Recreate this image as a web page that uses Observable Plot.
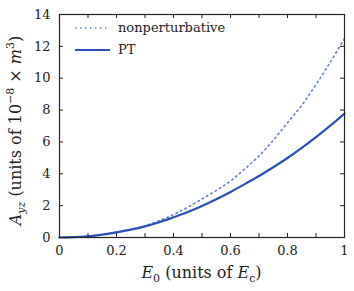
<!DOCTYPE html>
<html><head><meta charset="utf-8">
<script src="https://cdn.jsdelivr.net/npm/d3@7"></script>
<script src="https://cdn.jsdelivr.net/npm/@observablehq/plot@0.6"></script>
<style>body{margin:0;background:#fff} svg text, svg tspan {font-family: "DejaVu Serif", serif !important;}</style>
</head><body><div id="chart"></div>
<script>
const E0 = [0,0.05,0.1,0.15,0.2,0.25,0.3,0.35,0.4,0.45,0.5,0.55,0.6,0.65,0.7,0.75,0.8,0.85,0.9,0.95,1.0];
const nonperturbative = [0,0.02,0.08,0.18,0.33,0.51,0.74,1.06,1.44,1.9,2.42,2.95,3.55,4.3,5.12,6.1,7.2,8.3,9.6,11.0,12.5];
const PT = [0,0.02,0.08,0.18,0.32,0.49,0.7,0.96,1.27,1.6,1.98,2.4,2.86,3.35,3.86,4.41,4.99,5.62,6.3,7.02,7.78];
const xTicks = [0,0.2,0.4,0.6,0.8,1];
const xMinor = [0,0.1,0.2,0.3,0.4,0.5,0.6,0.7,0.8,0.9,1];
const yTicks = [0,2,4,6,8,10,12,14];
const seriesNames = ["nonperturbative","PT"];
const colors = ["#5b80d6","#2b50b8"];

const W = 354, H = 291, mL = 59, mR = 10, mT = 14, mB = 54;
const iW = W - mL - mR, iH = H - mT - mB, tl = 4;
const rows = E0.map((x,i)=>({x, np: nonperturbative[i], pt: PT[i]}));
const font = "DejaVu Serif, serif";

const plot = Plot.plot({
  width: W, height: H,
  marginLeft: mL, marginRight: mR, marginTop: mT, marginBottom: mB,
  style: {fontFamily: font, fontSize: "13px", color: "#222", background: "#fff"},
  x: {domain: [0,1]},
  y: {domain: [0,14]},
  marks: [
    Plot.line(rows, {x: "x", y: "np", stroke: colors[0], strokeWidth: 1.6, strokeDasharray: "1.5,3.5", curve: "catmull-rom"}),
    Plot.line(rows, {x: "x", y: "pt", stroke: colors[1], strokeWidth: 2.2, curve: "catmull-rom"}),
    Plot.tickX(xMinor, {x: d=>d, insetTop: iH - tl, stroke: "#222"}),
    Plot.tickX(xMinor, {x: d=>d, insetBottom: iH - tl, stroke: "#222"}),
    Plot.tickY(yTicks, {y: d=>d, insetRight: iW - tl, stroke: "#222"}),
    Plot.tickY(yTicks, {y: d=>d, insetLeft: iW - tl, stroke: "#222"}),
    Plot.axisX(xTicks, {tickSize: 0, tickPadding: 8, fontSize: 13, label: null, tickFormat: d => d === 0 || d === 1 ? String(d) : d.toFixed(1)}),
    Plot.axisY(yTicks, {tickSize: 0, tickPadding: 9, fontSize: 13, label: null}),
    Plot.frame({stroke: "#222", strokeWidth: 1.2})
  ]
});
document.getElementById("chart").appendChild(plot);

const svg = d3.select(plot);
const leg = svg.append("g");
seriesNames.forEach((name,i)=>{
  const y = 28 + i*22;
  leg.append("line").attr("x1",75).attr("x2",110).attr("y1",y).attr("y2",y)
    .attr("stroke",colors[i]).attr("stroke-width", i===0?1.6:2.2)
    .attr("stroke-dasharray", i===0?"1.5,3.5":null);
  leg.append("text").attr("x",118).attr("y",y).attr("dy","0.33em").attr("text-anchor","start")
    .attr("font-size",13).attr("fill","#222").text(name);
});
const xl = svg.append("text").attr("x", mL + iW/2).attr("y", 278)
  .attr("text-anchor","middle").attr("font-size",16).attr("fill","#222");
xl.append("tspan").attr("font-style","italic").text("E");
xl.append("tspan").attr("font-size",11).attr("dy",4).text("0");
xl.append("tspan").attr("dy",-4).text(" (units of ");
xl.append("tspan").attr("font-style","italic").text("E");
xl.append("tspan").attr("font-size",11).attr("dy",4).text("c");
xl.append("tspan").attr("dy",-4).text(")");
const yl = svg.append("text").attr("transform", `translate(21,${mT + iH/2 + 5}) rotate(-90)`)
  .attr("text-anchor","middle").attr("font-size",16).attr("fill","#222");
yl.append("tspan").attr("font-style","italic").text("A");
yl.append("tspan").attr("font-style","italic").attr("font-size",11).attr("dy",4).text("yz");
yl.append("tspan").attr("dy",-4).text(" (units of 10");
yl.append("tspan").attr("font-size",11).attr("dy",-7).text("−8");
yl.append("tspan").attr("dy",7).text(" × ");
yl.append("tspan").attr("font-style","italic").text("m");
yl.append("tspan").attr("font-size",11).attr("dy",-7).text("3");
yl.append("tspan").attr("dy",7).text(")");
</script></body></html>
